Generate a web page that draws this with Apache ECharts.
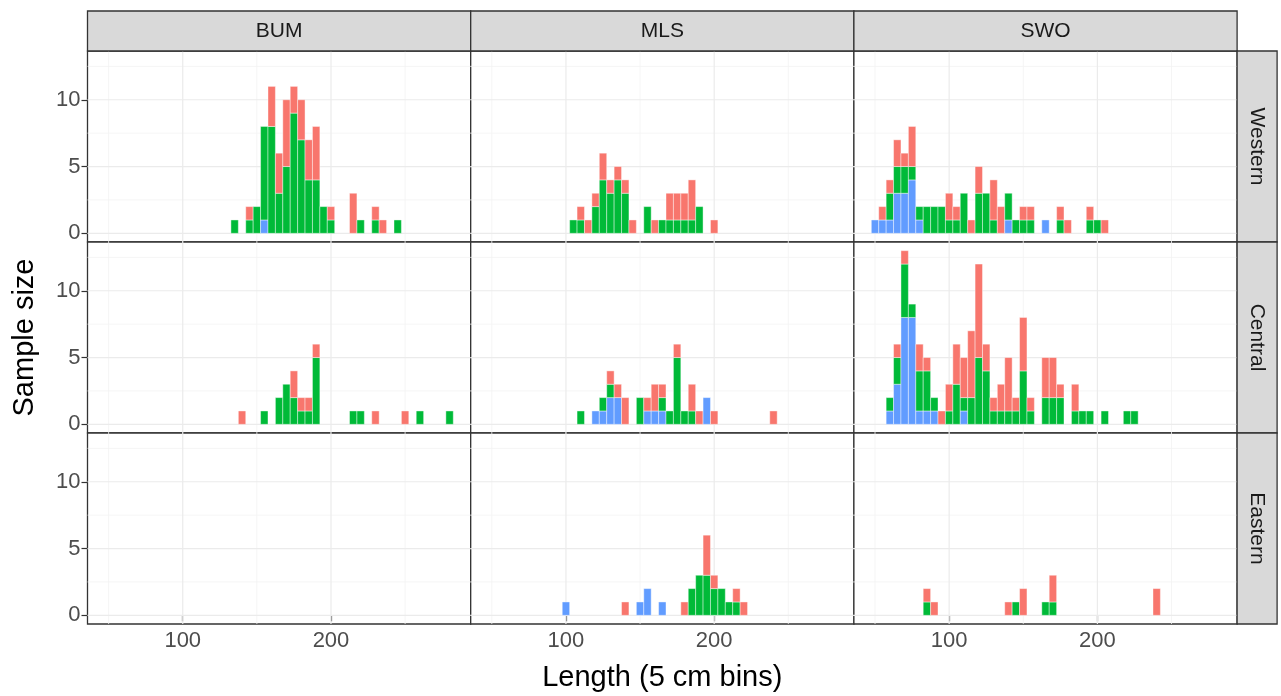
<!DOCTYPE html>
<html><head><meta charset="utf-8">
<script src="https://cdn.jsdelivr.net/npm/echarts@6/dist/echarts.min.js"></script>
<style>html,body{margin:0;padding:0;background:#fff}#c{width:1281px;height:696px}</style>
</head><body><div id="c"></div>
<script>
// ---------- data ----------
const species = ['BUM', 'MLS', 'SWO'];
const regions = ['Western', 'Central', 'Eastern'];
const xTickLabels = [100, 200];
const yTickLabels = [0, 5, 10];
const xGridMajor = [100, 200];
const xGridMinor = [50, 150, 250];
const yGridMajor = [0, 5, 10];
const yGridMinor = [2.5, 7.5, 12.5];
const BIN_WIDTH = 5;
const xTitle = 'Length (5 cm bins)';
const yTitle = 'Sample size';

// each row: [bin centre, blue count, green count, red count]
const BUM_Western = [[135,0,1,0],[145,0,1,1],[150,0,2,0],[155,1,7,0],[160,0,8,3],[165,0,3,3],[170,0,5,5],[175,0,9,2],[180,0,7,3],[185,0,4,3],[190,0,4,4],[195,0,2,0],[200,0,1,1],[215,0,0,3],[220,0,1,0],[230,0,1,1],[235,0,0,1],[245,0,1,0]];
const MLS_Western = [[105,0,1,0],[110,0,1,1],[115,0,0,1],[120,0,2,1],[125,0,4,2],[130,0,3,1],[135,0,4,1],[140,0,3,1],[145,0,0,1],[155,0,2,0],[160,0,0,1],[165,0,1,0],[170,0,1,2],[175,0,1,2],[180,0,1,2],[185,0,1,3],[190,0,2,0],[200,0,0,1]];
const SWO_Western = [[50,1,0,0],[55,1,0,1],[60,1,2,1],[65,3,2,2],[70,3,2,1],[75,4,1,3],[80,1,1,0],[85,0,2,0],[90,0,2,0],[95,0,2,0],[100,0,1,2],[105,0,1,1],[110,0,3,0],[115,0,0,1],[120,0,3,2],[125,0,3,0],[130,0,1,3],[135,0,0,2],[140,1,2,0],[145,0,1,0],[150,0,1,1],[155,0,1,1],[165,1,0,0],[175,0,1,1],[180,0,0,1],[195,0,1,1],[200,0,1,0],[205,0,0,1]];
const BUM_Central = [[140,0,0,1],[155,0,1,0],[165,0,2,0],[170,0,3,0],[175,0,2,2],[180,0,1,1],[185,0,1,1],[190,0,5,1],[215,0,1,0],[220,0,1,0],[230,0,0,1],[250,0,0,1],[260,0,1,0],[280,0,1,0]];
const MLS_Central = [[110,0,1,0],[120,1,0,0],[125,1,1,0],[130,2,1,1],[135,2,0,1],[140,0,0,2],[150,0,2,0],[155,1,0,1],[160,1,0,2],[165,1,1,1],[170,0,1,0],[175,0,5,1],[180,0,1,0],[185,0,1,2],[190,0,0,1],[195,2,0,0],[200,0,0,1],[240,0,0,1]];
const SWO_Central = [[60,1,1,0],[65,3,2,1],[70,8,4,1],[75,8,1,0],[80,1,3,2],[85,1,3,1],[90,1,1,0],[95,0,0,1],[100,0,1,2],[105,0,3,3],[110,1,1,3],[115,0,2,5],[120,0,5,7],[125,0,4,2],[130,0,1,1],[135,0,1,2],[140,0,1,4],[145,0,1,1],[150,0,4,4],[155,0,1,1],[165,0,2,3],[170,0,2,3],[175,0,2,1],[185,0,1,2],[190,0,1,0],[195,0,1,0],[205,0,1,0],[220,0,1,0],[225,0,1,0]];
const BUM_Eastern = [];
const MLS_Eastern = [[100,1,0,0],[140,0,0,1],[150,1,0,0],[155,2,0,0],[165,1,0,0],[180,0,0,1],[185,0,2,0],[190,0,3,0],[195,0,3,3],[200,0,2,1],[205,0,2,0],[210,0,1,0],[215,0,1,1],[220,0,0,1]];
const SWO_Eastern = [[85,0,1,1],[90,0,0,1],[140,0,0,1],[145,0,1,0],[150,0,0,2],[165,0,1,0],[170,0,1,2],[240,0,0,2]];

const panels = {
  BUM: {Western: BUM_Western, Central: BUM_Central, Eastern: BUM_Eastern},
  MLS: {Western: MLS_Western, Central: MLS_Central, Eastern: MLS_Eastern},
  SWO: {Western: SWO_Western, Central: SWO_Central, Eastern: SWO_Eastern}
};

// ---------- style / layout ----------
const FILL = ['#619CFF', '#00BA38', '#F8766D']; // bottom -> top
const XMIN = 35.75, XMAX = 294.25, YMIN = -0.65, YMAX = 13.65;
const L = 87.5, T = 51, CW = 383.2, RH = 191;
const STRIP = 40;
const FONT = 'Liberation Sans, Arial, Helvetica, sans-serif';
const BORDER = '#333333';
const TICK_FS = 22, STRIP_FS = 21, TITLE_FS = 29;

const gridLineData = [];
xGridMinor.forEach(v => gridLineData.push([v, 0, 0]));
yGridMinor.forEach(v => gridLineData.push([v, 1, 0]));
xGridMajor.forEach(v => gridLineData.push([v, 0, 1]));
yGridMajor.forEach(v => gridLineData.push([v, 1, 1]));

function renderGrid(params, api) {
  const v = api.value(0), dir = api.value(1), major = api.value(2);
  let p1, p2;
  if (dir === 0) { p1 = api.coord([v, YMIN]); p2 = api.coord([v, YMAX]); }
  else { p1 = api.coord([XMIN, v]); p2 = api.coord([XMAX, v]); }
  return {type: 'line', silent: true,
    shape: {x1: p1[0], y1: p1[1], x2: p2[0], y2: p2[1]},
    style: {stroke: major ? '#EBEBEB' : '#F3F3F3', lineWidth: major ? 1.2 : 0.8}};
}
function renderBars(params, api) {
  const x = api.value(0);
  let base = 0; const children = [];
  for (let k = 0; k < 3; k++) {
    const n = api.value(k + 1);
    if (!n) continue;
    const a = api.coord([x - BIN_WIDTH / 2, base]);
    const b = api.coord([x + BIN_WIDTH / 2, base + n]);
    children.push({type: 'rect',
      shape: {x: a[0], y: b[1], width: b[0] - a[0], height: a[1] - b[1]},
      style: {fill: FILL[k], stroke: 'rgba(255,255,255,0.6)', lineWidth: 0.7}});
    base += n;
  }
  return {type: 'group', children};
}

const grids = [], xAxes = [], yAxes = [], series = [], graphics = [];
regions.forEach((reg, r) => {
  species.forEach((sp, c) => {
    const i = r * 3 + c;
    grids.push({left: L + c * CW, top: T + r * RH, width: CW, height: RH,
      show: true, borderColor: BORDER, borderWidth: 1.3, backgroundColor: '#fff'});
    xAxes.push({gridIndex: i, type: 'value', min: XMIN, max: XMAX,
      axisLine: {show: false}, splitLine: {show: false},
      axisTick: {show: r === 2, customValues: xTickLabels, length: 6, lineStyle: {color: BORDER, width: 1.2}},
      axisLabel: {show: r === 2, customValues: xTickLabels, fontSize: TICK_FS, color: '#4D4D4D', margin: 6, fontFamily: FONT},
      name: (r === 2 && c === 1) ? xTitle : '', nameLocation: 'middle', nameGap: 39,
      nameTextStyle: {fontSize: TITLE_FS, color: '#000', fontFamily: FONT}});
    yAxes.push({gridIndex: i, type: 'value', min: YMIN, max: YMAX,
      axisLine: {show: false}, splitLine: {show: false},
      axisTick: {show: c === 0, customValues: yTickLabels, length: 6, lineStyle: {color: BORDER, width: 1.2}},
      axisLabel: {show: c === 0, customValues: yTickLabels, fontSize: TICK_FS, color: '#4D4D4D', margin: 7, fontFamily: FONT},
      name: (c === 0 && r === 1) ? yTitle : '', nameLocation: 'middle', nameGap: 48,
      nameTextStyle: {fontSize: TITLE_FS, color: '#000', fontFamily: FONT}});
    series.push({type: 'custom', xAxisIndex: i, yAxisIndex: i, silent: true, clip: true, z: 1,
      renderItem: renderGrid, data: gridLineData});
    series.push({type: 'custom', xAxisIndex: i, yAxisIndex: i, clip: true, z: 3,
      dimensions: ['bin', 'blue', 'green', 'red'], encode: {x: 0, y: 1},
      renderItem: renderBars, data: panels[sp][reg]});
  });
});

species.forEach((sp, c) => {
  graphics.push({type: 'rect', shape: {x: L + c * CW, y: T - STRIP, width: CW, height: STRIP},
    style: {fill: '#D9D9D9', stroke: BORDER, lineWidth: 1.3}, z: 10});
  graphics.push({type: 'text', x: L + c * CW + CW / 2, y: T - STRIP / 2, z: 11,
    style: {text: sp, fill: '#1A1A1A', font: STRIP_FS + 'px ' + FONT, align: 'center', verticalAlign: 'middle', textAlign: 'center', textVerticalAlign: 'middle'}});
});
regions.forEach((reg, r) => {
  graphics.push({type: 'rect', shape: {x: L + 3 * CW, y: T + r * RH, width: STRIP, height: RH},
    style: {fill: '#D9D9D9', stroke: BORDER, lineWidth: 1.3}, z: 10});
  graphics.push({type: 'text', x: L + 3 * CW + STRIP / 2, y: T + r * RH + RH / 2, rotation: -Math.PI / 2, z: 11,
    style: {text: reg, fill: '#1A1A1A', font: STRIP_FS + 'px ' + FONT, align: 'center', verticalAlign: 'middle', textAlign: 'center', textVerticalAlign: 'middle'}});
});

const chart = echarts.init(document.getElementById('c'), null, {renderer: 'canvas'});
chart.setOption({
  backgroundColor: '#fff',
  animation: false,
  textStyle: {fontFamily: FONT},
  grid: grids, xAxis: xAxes, yAxis: yAxes, series: series,
  graphic: {elements: graphics}
});
</script></body></html>
